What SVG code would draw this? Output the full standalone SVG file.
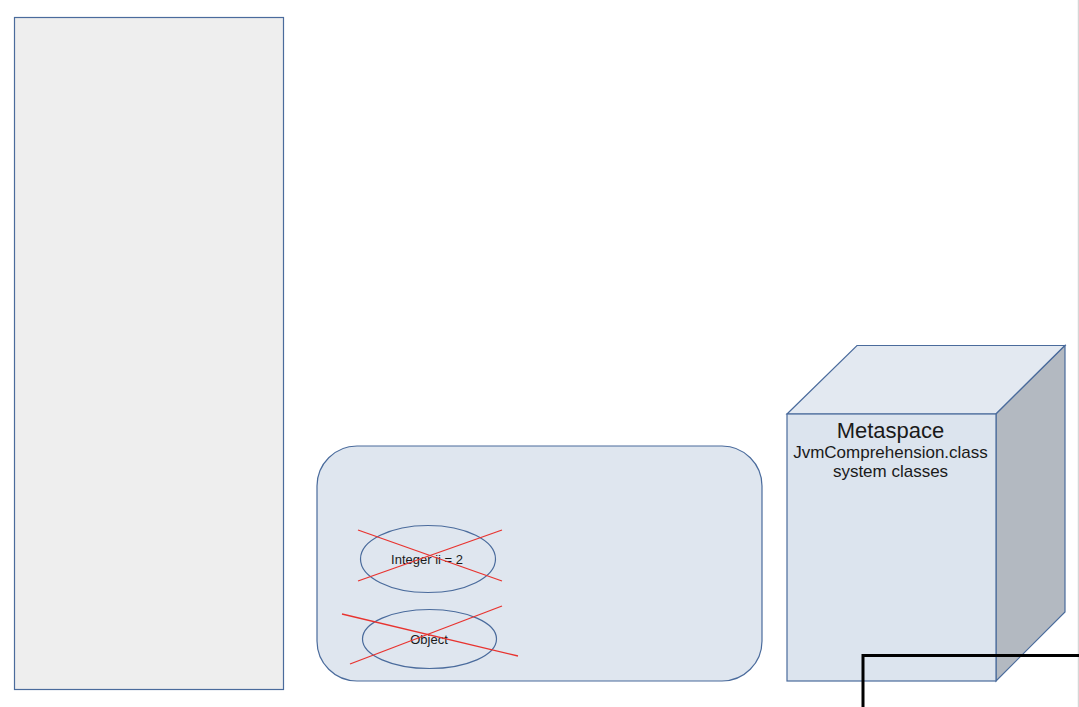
<svg xmlns="http://www.w3.org/2000/svg" width="1079" height="707" viewBox="0 0 1079 707">
<style>
.shape{stroke:#4a6b9c;stroke-width:1.2}
.cross{stroke:#e8332f;stroke-width:1.3;fill:none}
.lbl{font-family:"Liberation Sans",Arial,sans-serif;fill:#1a1a1a;text-anchor:middle}
</style>
<rect width="1079" height="707" fill="#ffffff"/>
<line x1="1078.5" y1="0" x2="1078.5" y2="707" stroke="#d6d6d6" stroke-width="1.5"/>
<g id="stack">
<rect class="shape" x="14.5" y="17.5" width="269" height="672" fill="#eeeeee"/>
</g>
<g id="heap">
<rect class="shape" x="317" y="446" width="445" height="235" rx="40" ry="40" fill="#dfe6ef"/>
</g>
<g id="integer">
<ellipse class="shape" cx="428" cy="559" rx="67.5" ry="33.5" fill="#dfe6ef"/>
<text class="lbl" x="427" y="563.5" font-size="13">Integer ii = 2</text>
<line class="cross" x1="358" y1="530" x2="502" y2="581"/>
<line class="cross" x1="358" y1="581" x2="502" y2="530"/>
</g>
<g id="object">
<ellipse class="shape" cx="429.5" cy="639" rx="67" ry="29.5" fill="#dfe6ef"/>
<text class="lbl" x="429" y="643.5" font-size="13">Object</text>
<line class="cross" x1="342" y1="614" x2="518" y2="656"/>
<line class="cross" x1="350" y1="664" x2="502" y2="606"/>
</g>
<g id="metaspace">
<polygon class="shape" points="787,414 857,345.5 1065,345.5 996,414" fill="#e3e9f1"/>
<polygon class="shape" points="996,414 1065,345.5 1065,612 996,681" fill="#b3b9c1"/>
<rect class="shape" x="787" y="414" width="209" height="267" fill="#dce4ee"/>
<text class="lbl" x="890.5" y="438" font-size="22">Metaspace</text>
<text class="lbl" x="890.5" y="458" font-size="17">JvmComprehension.class</text>
<text class="lbl" x="890.5" y="477" font-size="17">system classes</text>
</g>
<g id="connectors">
<polyline points="863,707 863,655.5 1079,655.5" fill="none" stroke="#000000" stroke-width="3"/>
</g>
</svg>
